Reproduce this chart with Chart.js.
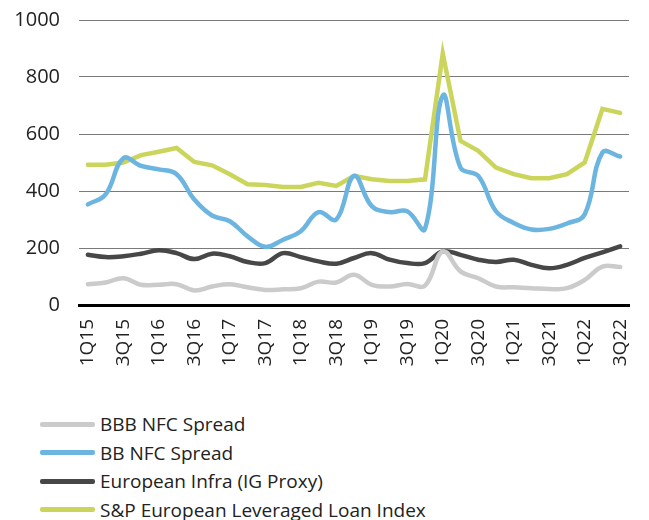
<!DOCTYPE html>
<html>
<head>
<meta charset="utf-8">
<script src="https://cdn.jsdelivr.net/npm/chart.js@4"></script>
<style>
  body { margin: 0; background: #fff; font-family: "Open Sans", sans-serif; }
  #wrap { position: relative; width: 649px; height: 520px; overflow: hidden; }
  #chartBox { position: absolute; left: 0; top: -11px; width: 649px; height: 411px; }
  #legend { position: absolute; left: 40px; top: 410px; }
  .item { display: flex; align-items: center; height: 28.5px; font-size: 19px; color: #222; }
  .swatch { width: 55px; height: 5px; border-radius: 2px; margin-right: 5px; }
</style>
</head>
<body>
<div id="wrap">
  <div id="chartBox"><canvas id="chart"></canvas></div>
  <div id="legend"></div>
</div>
<script>
// quarters from 1Q15 to 3Q22
const quarters = [
  "1Q15","2Q15","3Q15","4Q15","1Q16","2Q16","3Q16","4Q16",
  "1Q17","2Q17","3Q17","4Q17","1Q18","2Q18","3Q18","4Q18",
  "1Q19","2Q19","3Q19","4Q19","1Q20","2Q20","3Q20","4Q20",
  "1Q21","2Q21","3Q21","4Q21","1Q22","2Q22","3Q22"
];

const bbbNfc = [73,79,94,71,71,73,51,65,73,62,53,55,59,82,79,106,71,65,74,68,188,118,94,65,62,59,56,59,88,135,133];
const bbNfc = [353,388,515,488,476,459,370,314,294,241,204,229,259,326,300,453,347,326,329,267,735,482,453,329,288,265,267,286,318,535,521];
const euInfra = [176,168,171,180,192,182,161,180,171,151,147,182,168,153,145,165,182,159,147,147,188,176,159,151,159,141,129,141,165,185,206];
const spLoan = [492,492,500,526,538,551,502,490,459,424,421,414,414,429,418,453,441,435,435,441,882,576,541,482,459,445,445,459,500,688,674];

const yTicks = [0, 200, 400, 600, 800, 1000];

const series = [
  { label: "BBB NFC Spread", data: bbbNfc, color: "#cbcbcb", tension: 0.4 },
  { label: "BB NFC Spread", data: bbNfc, color: "#6cb5e0", tension: 0.4 },
  { label: "European Infra (IG Proxy)", data: euInfra, color: "#474747", tension: 0.4 },
  { label: "S&P European Leveraged Loan Index", data: spLoan, color: "#cbd55c", tension: 0 },
];

const font = { family: "Open Sans", size: 19 };

new Chart(document.getElementById("chart"), {
  type: "line",
  data: {
    labels: quarters,
    datasets: series.map((s) => ({
      label: s.label,
      data: s.data,
      borderColor: s.color,
      backgroundColor: s.color,
      borderWidth: 4.5,
      pointRadius: 0,
      tension: s.tension,
      borderCapStyle: "round",
    })),
  },
  options: {
    responsive: true,
    maintainAspectRatio: false,
    animation: false,
    layout: { padding: { top: 11, right: 1, left: 0, bottom: 0 } },
    plugins: { legend: { display: false }, tooltip: { enabled: false } },
    scales: {
      x: {
        offset: true,
        grid: { display: false },
        border: { color: "#000", width: 3 },
        ticks: {
          autoSkip: false,
          minRotation: 90,
          maxRotation: 90,
          padding: 6,
          color: "#222",
          font: font,
          callback: (v, i) => (i % 2 === 0 ? quarters[i] : ""),
        },
        afterFit: (scale) => { scale.height = 95; },
      },
      y: {
        min: 0,
        max: 1000,
        afterBuildTicks: (scale) => { scale.ticks = yTicks.map((v) => ({ value: v })); },
        grid: { color: "#7a7a7a", lineWidth: 1, drawTicks: false },
        border: { display: false },
        ticks: {
          padding: 19,
          color: "#222",
          font: { family: "Open Sans", size: 20 },
          callback: (v) => String(v),
        },
        afterFit: (scale) => { scale.width = 79; },
      },
    },
  },
});

// legend as a plain list below the chart
const legend = document.getElementById("legend");
series.forEach((s) => {
  const row = document.createElement("div");
  row.className = "item";
  row.innerHTML = `<span class="swatch" style="background:${s.color}"></span><span>${s.label}</span>`;
  legend.appendChild(row);
});
</script>
</body>
</html>
